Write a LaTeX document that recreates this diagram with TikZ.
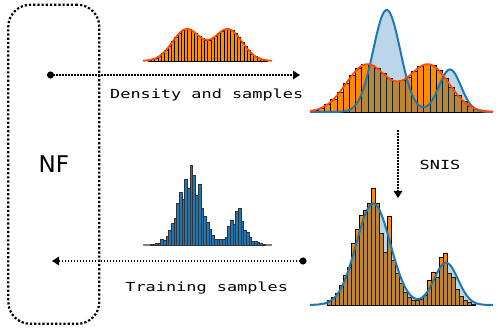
\documentclass[tikz,border=0pt]{standalone}
\usepackage{fontspec}
\setmonofont{DejaVu Sans Mono}
\newfontfamily\nffont{DejaVu Sans}
\usepackage{graphicx}
\usetikzlibrary{arrows.meta}
\definecolor{barorange}{HTML}{FF8C00}
\definecolor{curveorange}{HTML}{FF4A00}
\definecolor{mplblue}{HTML}{1F77B4}
\newcommand{\wide}[1]{\scalebox{1.35}[1]{#1}}

\begin{document}
\begin{tikzpicture}[
    x=1pt, y=1pt,
    declare function={
      bump(\u)=exp(0-min(9,abs(\u)*abs(\u)/2));
      dtop(\x)=31.6*(bump((\x-186.5)/14)+bump((\x-228)/14));
      dprop(\x)=47.3*(bump((\x-366.7)/20.5)+bump((\x-428.3)/20.5));
      dtar(\x)=102*bump((\x-386.7)/13.5)+42.5*bump((\x-450)/11);
      dfit(\x)=101.5*bump((\x-373.3)/17)+42.3*bump((\x-446)/12);
    },
    lbl/.style={font=\ttfamily\fontsize{12.5}{15}\selectfont, inner sep=0pt},
    flow/.style={line width=1.6pt, dash pattern=on 1.6pt off 1.4pt, -{Triangle[length=7pt,width=8.5pt]}},
    dotflow/.style={flow, {Circle[length=7pt]}-{Triangle[length=7pt,width=8.5pt]}},
    nfbox/.style={draw, line width=2.2pt, dash pattern=on 2.2pt off 2pt, rounded corners=22pt,
      minimum width=91pt, minimum height=319pt, font=\nffont\fontsize{23}{27}\selectfont},
    orangebar/.style={fill=barorange, draw=black, line width=0.45pt},
    bluebar/.style={fill=mplblue, draw=black!80, line width=0.45pt},
    orangecurve/.style={draw=curveorange, line width=1.8pt},
    bluecurve/.style={draw=mplblue, line width=2pt},
    bluearea/.style={fill=mplblue, fill opacity=0.3}
]
\useasboundingbox (0,0) rectangle (498,332);

% normalizing flow
\node[nfbox] (nf) at (53.8,167.7) {NF};

% proposal density (top left)
\foreach \i in {0,...,35}
  \filldraw[orangebar, line width=0.35pt] ({148+3.3*\i},271) rectangle ++(3.3,{dtop(148+3.3*\i+1.65)});
\draw[orangecurve] plot[domain=143:272, samples=90] (\x,{271+dtop(\x)});

% proposal vs target (top right)
\foreach \i in {0,...,28}
  \filldraw[orangebar] ({312+6.2*\i},220) rectangle ++(6.2,{dprop(312+6.2*\i+3.1)});
\fill[bluearea] (310,220) -- plot[domain=310:493, samples=150] (\x,{220+dtar(\x)}) -- (493,220) -- cycle;
\draw[bluecurve] plot[domain=310:493, samples=150] (\x,{220+dtar(\x)});
\draw[orangecurve] plot[domain=310:493, samples=120] (\x,{220+dprop(\x)});

% resampled histogram (bottom right)
\foreach \h [count=\i from 0] in {5,8,12,20,30,38,62,76,90,95,102,117,102,72,53,89,45,32,22,13,8,5,5,6,10,25,33,28,48,52,32,28,16,9,5,2.3,1}
  \filldraw[orangebar] ({327.7+4*\i},27) rectangle ++(4,\h);
\fill[bluearea] (310,27) -- plot[domain=310:493, samples=150] (\x,{27+dfit(\x)}) -- (493,27) -- cycle;
\draw[bluecurve] plot[domain=310:493, samples=150] (\x,{27+dfit(\x)});

% training samples (bottom left)
\draw[gray, line width=1.2pt] (143,87) -- (272,87);
\foreach \h [count=\i from 0] in {1,1,1.7,1.7,5.7,5,9,15,21.7,26.7,42,53,45.7,65.7,56.7,80,70,50,61,36.7,28.3,23,15.7,10,5.7,5.7,5.7,5.7,7.7,18.3,24.3,21,33.3,36.7,23.3,15,12.3,7.7,3.3,3.3,2.3,1.7,1}
  \filldraw[bluebar] ({150+2.67*\i},87) rectangle ++(2.67,\h);

% connectors
\coordinate (dens0) at (47,257);
\coordinate (dens1) at (300,257);
\coordinate (snis0) at (398,202);
\coordinate (snis1) at (398,134);
\coordinate (train0) at (306.5,71);
\coordinate (train1) at (52,71);
\draw[dotflow] (dens0) -- (dens1);
\draw[flow] (snis0) -- (snis1);
\draw[dotflow] (train0) -- (train1);

\node[lbl, anchor=base] (denslbl) at (206.7,233) {\wide{Density and samples}};
\node[lbl, anchor=base] (snislbl) at (440,162) {\wide{SNIS}};
\node[lbl, anchor=base] (trainlbl) at (206.7,40.3) {\wide{Training samples}};
\end{tikzpicture}
\end{document}
